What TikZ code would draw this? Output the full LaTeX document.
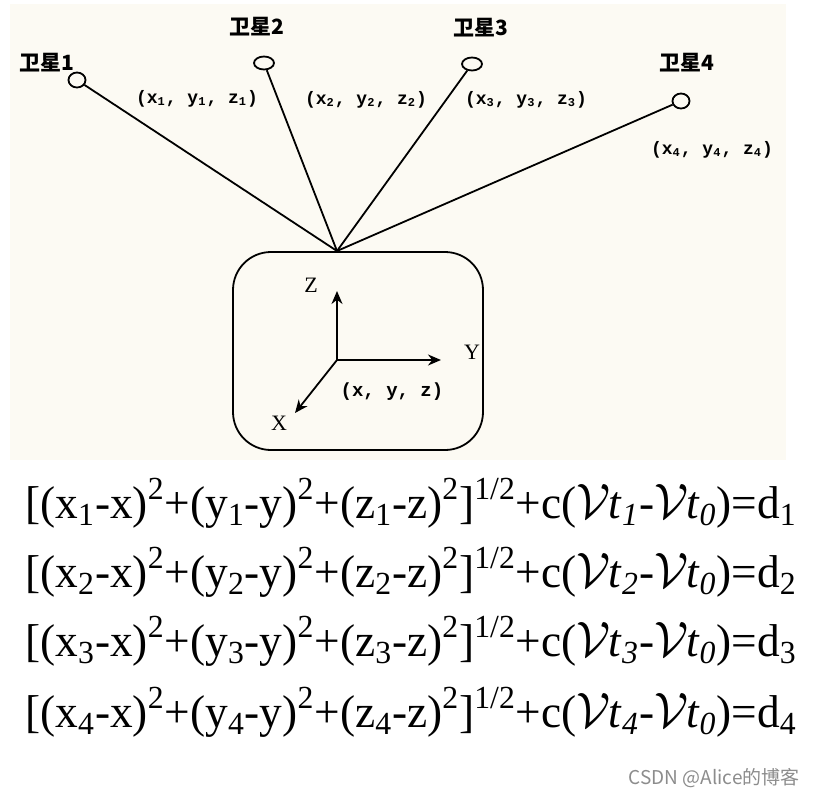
\documentclass[tikz,border=0pt]{standalone}
\usepackage{fontspec}
\setmainfont{Liberation Serif}
\setmonofont{Liberation Mono}
\newfontfamily\cjk{Noto Sans CJK SC}
\usetikzlibrary{shapes.geometric, arrows, arrows.meta, positioning}
\definecolor{panel}{RGB}{252,250,243}
\definecolor{mark}{RGB}{140,140,140}
\tikzstyle{arrow}   = [line width=0.9pt,-{Stealth[length=6.5pt,width=5.5pt]}]
\tikzstyle{sat}     = [line width=0.9pt, draw, ellipse, minimum width=8.5pt, minimum height=7.5pt, inner sep=0pt]
\tikzstyle{edge}    = [line width=0.9pt]
\tikzstyle{satname} = [font=\cjk\bfseries\fontsize{10.5}{12}\selectfont, inner sep=0pt]
\tikzstyle{coordlabel} = [font=\ttfamily\bfseries\fontsize{9}{10}\selectfont, inner sep=0pt]
\tikzstyle{axname}  = [font=\fontsize{11}{12}\selectfont, inner sep=0pt]
\tikzstyle{eq}      = [font=\fontsize{23}{26}\selectfont, anchor=base west, inner sep=0pt]
\newcommand{\vtime}[1]{$\mathcal{V}$\kern-1pt\textit{t}\textsubscript{\textit{#1}}}

\begin{document}
\begin{tikzpicture}[x=0.5pt,y=-0.5pt]
\useasboundingbox (0,0) rectangle (816,799);

% podklad
\fill[panel] (10,4) rectangle (786,460);

% druzice
\node[sat] (s1) at (77,80) {};
\node[sat, minimum width=10pt, minimum height=6.5pt] (s2) at (264,63) {};
\node[sat, minimum width=10pt, minimum height=6.5pt] (s3) at (472,64) {};
\node[sat] (s4) at (681,101) {};

\node[satname] (n1) at (47,63) {卫星1};
\node[satname] (n2) at (257,27) {卫星2};
\node[satname] (n3) at (481,28) {卫星3};
\node[satname] (n4) at (687,63) {卫星4};

\node[coordlabel] (p1) at (197,99) {(x\textsubscript{1}, y\textsubscript{1}, z\textsubscript{1})};
\node[coordlabel] (p2) at (366,100) {(x\textsubscript{2}, y\textsubscript{2}, z\textsubscript{2})};
\node[coordlabel] (p3) at (526,100) {(x\textsubscript{3}, y\textsubscript{3}, z\textsubscript{3})};
\node[coordlabel] (p4) at (712,150) {(x\textsubscript{4}, y\textsubscript{4}, z\textsubscript{4})};

% prijimac
\node[draw, line width=0.9pt, rounded corners=19pt, minimum width=125pt, minimum height=99pt, inner sep=0pt] (rx) at (358,351) {};
\coordinate (top) at (337,251);

% paprsky
\draw[edge] (s1) -- (top);
\draw[edge] (s2) -- (top);
\draw[edge] (s3) -- (top);
\draw[edge] (s4) -- (top);

% osy
\coordinate (o) at (337,360);
\coordinate (zt) at (337,291);
\coordinate (yt) at (441,360);
\coordinate (xt) at (295,413);
\draw[arrow] (o) -- (zt);
\draw[arrow] (o) -- (yt);
\draw[arrow] (o) -- (xt);
\node[axname] (zl) at (311,285) {Z};
\node[axname] (yl) at (472,352) {Y};
\node[axname] (xl) at (279,423) {X};
\node[coordlabel, font=\ttfamily\bfseries\fontsize{9.5}{11}\selectfont] (po) at (392,392) {(x, y, z)};

% rovnice
\foreach \i/\yy in {1/518,2/587,3/656,4/727}
  \node[eq, xscale=0.985] (eq\i) at (25,\yy) {[(x\textsubscript{\i}-x)\textsuperscript{2}+(y\textsubscript{\i}-y)\textsuperscript{2}+(z\textsubscript{\i}-z)\textsuperscript{2}]\textsuperscript{1/2}+c(\vtime{\i}-\vtime{0})=d\textsubscript{\i}};

\node[font=\cjk\fontsize{9.5}{11}\selectfont, text=mark, anchor=east, inner sep=0pt] (wm) at (800,778) {CSDN @Alice的博客};

\end{tikzpicture}
\end{document}
